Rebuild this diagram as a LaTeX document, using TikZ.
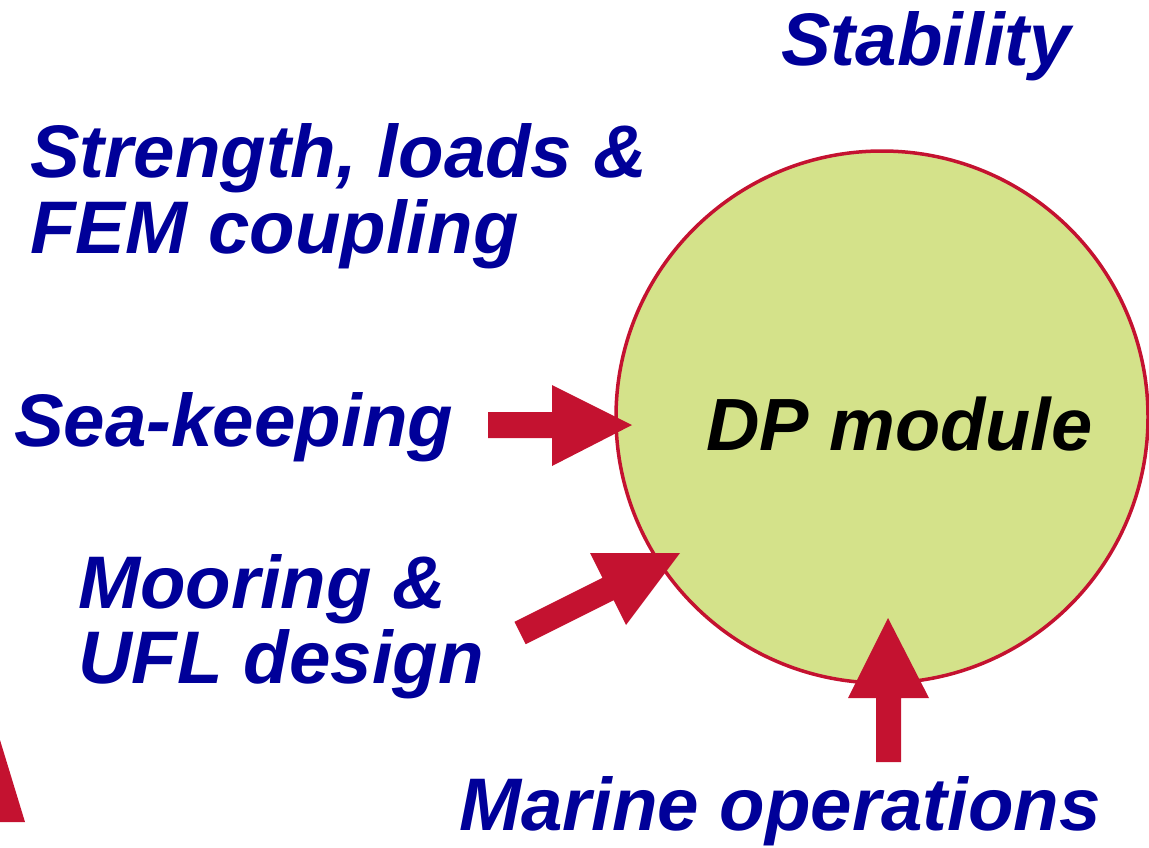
\documentclass[tikz,border=0pt]{standalone}
\usepackage{fontspec}
\setmainfont{Liberation Sans}
\definecolor{lblue}{RGB}{0,0,153}
\definecolor{ared}{RGB}{196,18,48}
\definecolor{cgreen}{RGB}{212,226,138}
\tikzset{
  lbl/.style={anchor=base west, inner sep=0pt, text=lblue, font=\fontsize{74.5}{78}\selectfont\bfseries\itshape},
  blockarrow/.style={fill=ared, draw=none}
}
\begin{document}
\begin{tikzpicture}[x=1pt,y=-1pt]
\useasboundingbox (0,0) rectangle (1149,847);
\begin{scope}
\clip (0,0) rectangle (1149,847);
\node[circle, draw=ared, line width=3.5pt, fill=cgreen, minimum size=532pt, inner sep=0pt] (dp) at (882,417) {};
\node[anchor=base west, inner sep=0pt, font=\fontsize{74}{78}\selectfont\bfseries\itshape] (dplabel) at (706,450) {DP module};
\end{scope}
\node[lbl] (stab) at (781,65) {Stability};
\node[lbl] (str1) at (30,177) {Strength, loads \&};
\node[lbl] (str2) at (30,253) {FEM coupling};
\node[lbl] (sea) at (14,446) {Sea-keeping};
\node[lbl] (moor1) at (78,608) {Mooring \&};
\node[lbl] (moor2) at (78,683) {UFL design};
\node[lbl] (mar) at (459,830) {Marine operations};
% block arrows
\fill[blockarrow] (488,412) -- (552,412) -- (552,385) -- (632,425) -- (552,466) -- (552,438) -- (488,438) -- cycle;
\fill[blockarrow] (514.4,621.8) -- (602.4,577.8) -- (590,553) -- (680,553) -- (626,625) -- (613.6,600.2) -- (525.6,644.2) -- cycle;
\fill[blockarrow] (876,762) -- (876,698) -- (848,698) -- (888,618) -- (929,698) -- (901,698) -- (901,762) -- cycle;
% fragment bottom left
\fill[blockarrow] (0,740) -- (25,822) -- (0,822) -- cycle;
\end{tikzpicture}
\end{document}
